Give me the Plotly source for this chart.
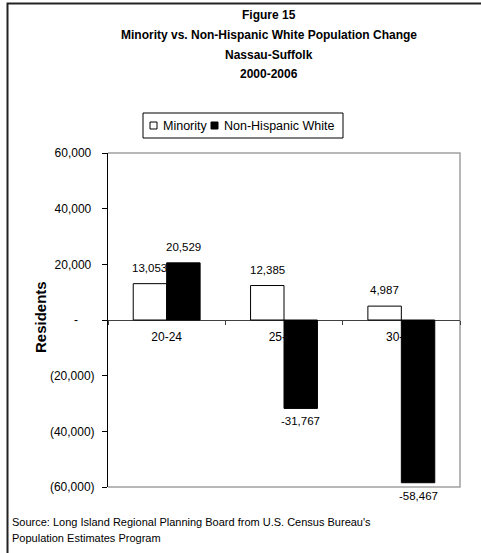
import plotly.graph_objects as go

# Population change 2000-2006 by age group, Nassau-Suffolk
age_groups = ["20-24", "25-29", "30-34"]
minority = [13053, 12385, 4987]
nh_white = [20529, -31767, -58467]
series_names = ["Minority", "Non-Hispanic White"]
y_ticks = [-60000, -40000, -20000, 0, 20000, 40000, 60000]

title_lines = ["Figure 15",
               "Minority vs. Non-Hispanic White Population Change",
               "Nassau-Suffolk",
               "2000-2006"]
source_lines = ["Source: Long Island Regional Planning Board from U.S. Census Bureau's",
                "Population Estimates Program"]

FONT = "Liberation Sans, Arial, sans-serif"
NBSP = "\u00a0"

W, H = 481, 553
L, R, T, B = 108, 460, 153, 487


def xp(px):
    return (px - L) / (R - L)


def yp(py):
    return (B - py) / (B - T)


def acct(v):
    # accounting style tick labels: dash for zero, parentheses for negatives
    if v == 0:
        return "-" + NBSP * 5
    if v < 0:
        return "({:,})".format(-v)
    return "{:,}".format(v) + NBSP


BARGAP = 0.43
half_bar = (1 - BARGAP) / 4

fig = go.Figure()
fig.add_trace(go.Bar(x=age_groups, y=minority, name=series_names[0],
                     marker=dict(color="white", line=dict(color="black", width=1))))
fig.add_trace(go.Bar(x=age_groups, y=nh_white, name=series_names[1],
                     marker=dict(color="black", line=dict(color="black", width=1))))

annotations = []
# value labels
for i, (a, b) in enumerate(zip(minority, nh_white)):
    for off, v in ((-half_bar, a), (half_bar, b)):
        annotations.append(dict(x=i + off, y=v, xref="x", yref="y",
                                text="{:,}".format(v), showarrow=False,
                                yanchor="middle", yshift=16 if v >= 0 else -13,
                                font=dict(family=FONT, size=11.5, color="black")))

# title lines
for text, cy in zip(title_lines, [15, 35, 55, 74]):
    annotations.append(dict(x=xp(269), y=yp(cy), xref="paper", yref="paper",
                            text="<b>%s</b>" % text, showarrow=False,
                            xanchor="center", yanchor="middle",
                            font=dict(family=FONT, size=12, color="black")))

# y axis title
annotations.append(dict(x=xp(40), y=yp(317), xref="paper", yref="paper",
                        text="<b>Residents</b>", showarrow=False, textangle=-90,
                        xanchor="center", yanchor="middle",
                        font=dict(family=FONT, size=15, color="black")))

# source note
for text, cy in zip(source_lines, [522, 538]):
    annotations.append(dict(x=xp(10), y=yp(cy), xref="paper", yref="paper",
                            text=text, showarrow=False,
                            xanchor="left", yanchor="middle",
                            font=dict(family=FONT, size=11, color="black")))

# legend drawn as a boxed row
legend_items = [(150, 161, "white"), (211, 222, "black")]
shapes = [
    dict(type="rect", xref="paper", yref="paper",
         x0=xp(143), x1=xp(343), y0=yp(138), y1=yp(113),
         line=dict(color="black", width=1), fillcolor="white"),
]
for (sx, tx, col), name in zip(legend_items, series_names):
    shapes.append(dict(type="rect", xref="paper", yref="paper",
                       x0=xp(sx), x1=xp(sx + 7), y0=yp(129), y1=yp(122),
                       line=dict(color="black", width=1), fillcolor=col))
    annotations.append(dict(x=xp(tx), y=yp(125.5), xref="paper", yref="paper",
                            text=name, showarrow=False,
                            xanchor="left", yanchor="middle",
                            font=dict(family=FONT, size=12.5, color="black")))

# plot-area border (top, right, bottom)
shapes.append(dict(type="path", xref="paper", yref="paper",
                   path="M %f,%f L %f,%f L %f,%f L %f,%f" % (0, 1, 1, 1, 1, 0, 0, 0),
                   line=dict(color="#a0a0a0", width=1.5), layer="below"))
# outer frame (left and top edges)
shapes.append(dict(type="path", xref="paper", yref="paper",
                   path="M %f,%f L %f,%f L %f,%f" % (xp(7.5), yp(560), xp(7.5), yp(3.5), xp(490), yp(3.5)),
                   line=dict(color="#222222", width=2)))

fig.update_layout(
    width=W, height=H,
    margin=dict(l=L, r=W - R, t=T, b=H - B, pad=0),
    paper_bgcolor="white", plot_bgcolor="white",
    barmode="group", bargap=BARGAP, bargroupgap=0,
    showlegend=False,
    font=dict(family=FONT, size=12, color="black"),
    annotations=annotations, shapes=shapes,
    xaxis=dict(type="category", anchor="free", position=0.5,
               showline=True, linecolor="#404040", linewidth=1,
               ticks="outside", tickson="boundaries", ticklen=4,
               tickcolor="#404040", showgrid=False, zeroline=False,
               layer="below traces", ticklabelstandoff=6,
               tickfont=dict(family=FONT, size=12, color="black")),
    yaxis=dict(range=[-60000, 60000], tickvals=y_ticks,
               ticktext=[acct(v) for v in y_ticks],
               showline=True, linecolor="black", linewidth=1,
               ticks="outside", ticklen=5, tickcolor="black",
               ticklabelstandoff=5,
               showgrid=False, zeroline=False,
               tickfont=dict(family=FONT, size=12, color="black")),
)

fig.write_html("out.html")
